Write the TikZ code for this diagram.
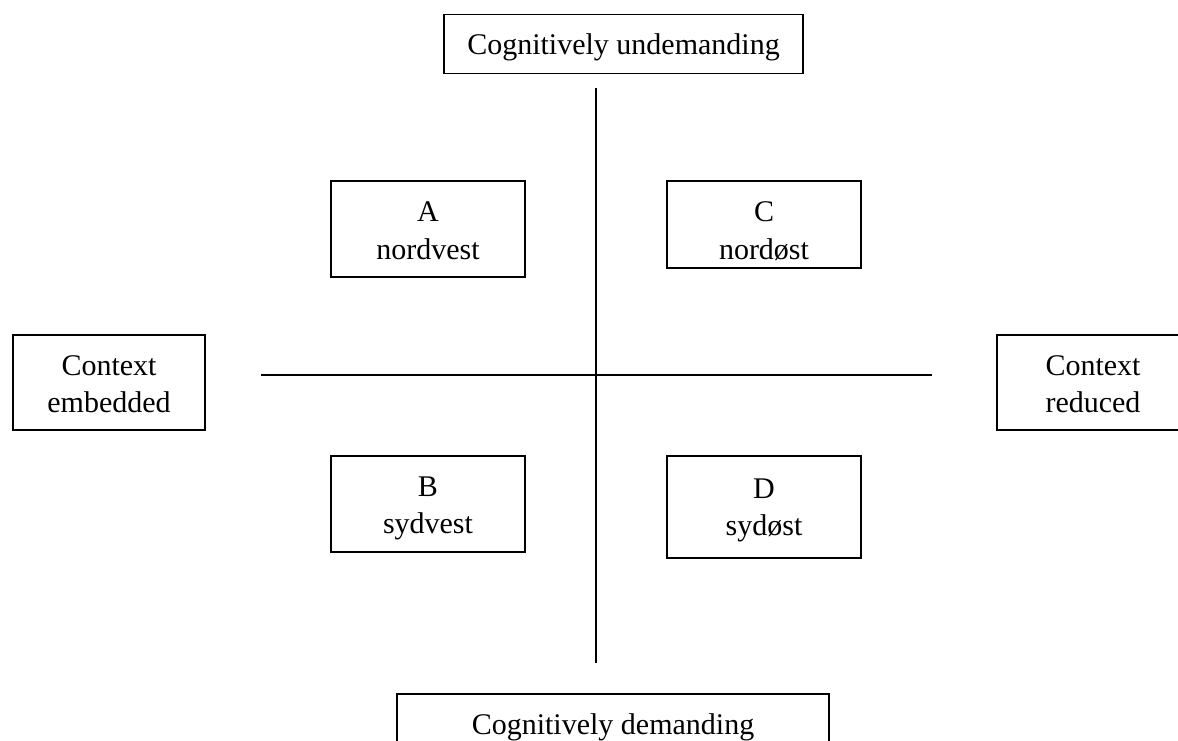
\documentclass[tikz,border=0pt]{standalone}
\usepackage{fontspec}
\setmainfont{Liberation Serif}
% #1 = distance from box top to first baseline, #2 = rest of box height
\newcommand\boxtext[3]{\raisebox{0pt}[#1][#2]{\begin{tabular}[t]{@{}c@{}}#3\end{tabular}}}
\begin{document}
\begin{tikzpicture}[x=1pt,y=-1pt,
  box/.style={draw, line width=1.5pt, inner sep=0pt,
    font=\fontsize{30}{37.5}\selectfont},
  axis/.style={line width=1.5pt}]
\useasboundingbox (0,0) rectangle (1178,740);
\begin{scope}
\clip (0,0) rectangle (1178,740);
\node[box, minimum width=359pt, minimum height=59pt] (top) at (623.5,44)
  {\boxtext{40pt}{19pt}{Cognitively undemanding}};
\node[box, minimum width=432pt, minimum height=60pt] (bot) at (613,724)
  {\boxtext{40.5pt}{19.5pt}{Cognitively demanding}};
\node[box, minimum width=192pt, minimum height=95pt] (left) at (109,382.5)
  {\boxtext{40pt}{55pt}{Context\\embedded}};
\node[box, minimum width=192pt, minimum height=95pt] (right) at (1093,382.5)
  {\boxtext{40pt}{55pt}{Context\\reduced}};
\node[box, minimum width=194pt, minimum height=96pt] (A) at (428,229)
  {\boxtext{40.5pt}{55.5pt}{A\\nordvest}};
\node[box, minimum width=194pt, minimum height=87pt] (C) at (764,224.5)
  {\boxtext{40.5pt}{46.5pt}{C\\nordøst}};
\node[box, minimum width=194pt, minimum height=96pt] (B) at (428,504)
  {\boxtext{40pt}{56pt}{B\\sydvest}};
\node[box, minimum width=194pt, minimum height=102pt] (D) at (764,507)
  {\boxtext{42pt}{60pt}{D\\sydøst}};
\coordinate (vt) at (596,88);
\coordinate (vb) at (596,663);
\coordinate (hl) at (261,375);
\coordinate (hr) at (932,375);
\draw[axis] (vt) -- (vb);
\draw[axis] (hl) -- (hr);
\end{scope}
\end{tikzpicture}
\end{document}
